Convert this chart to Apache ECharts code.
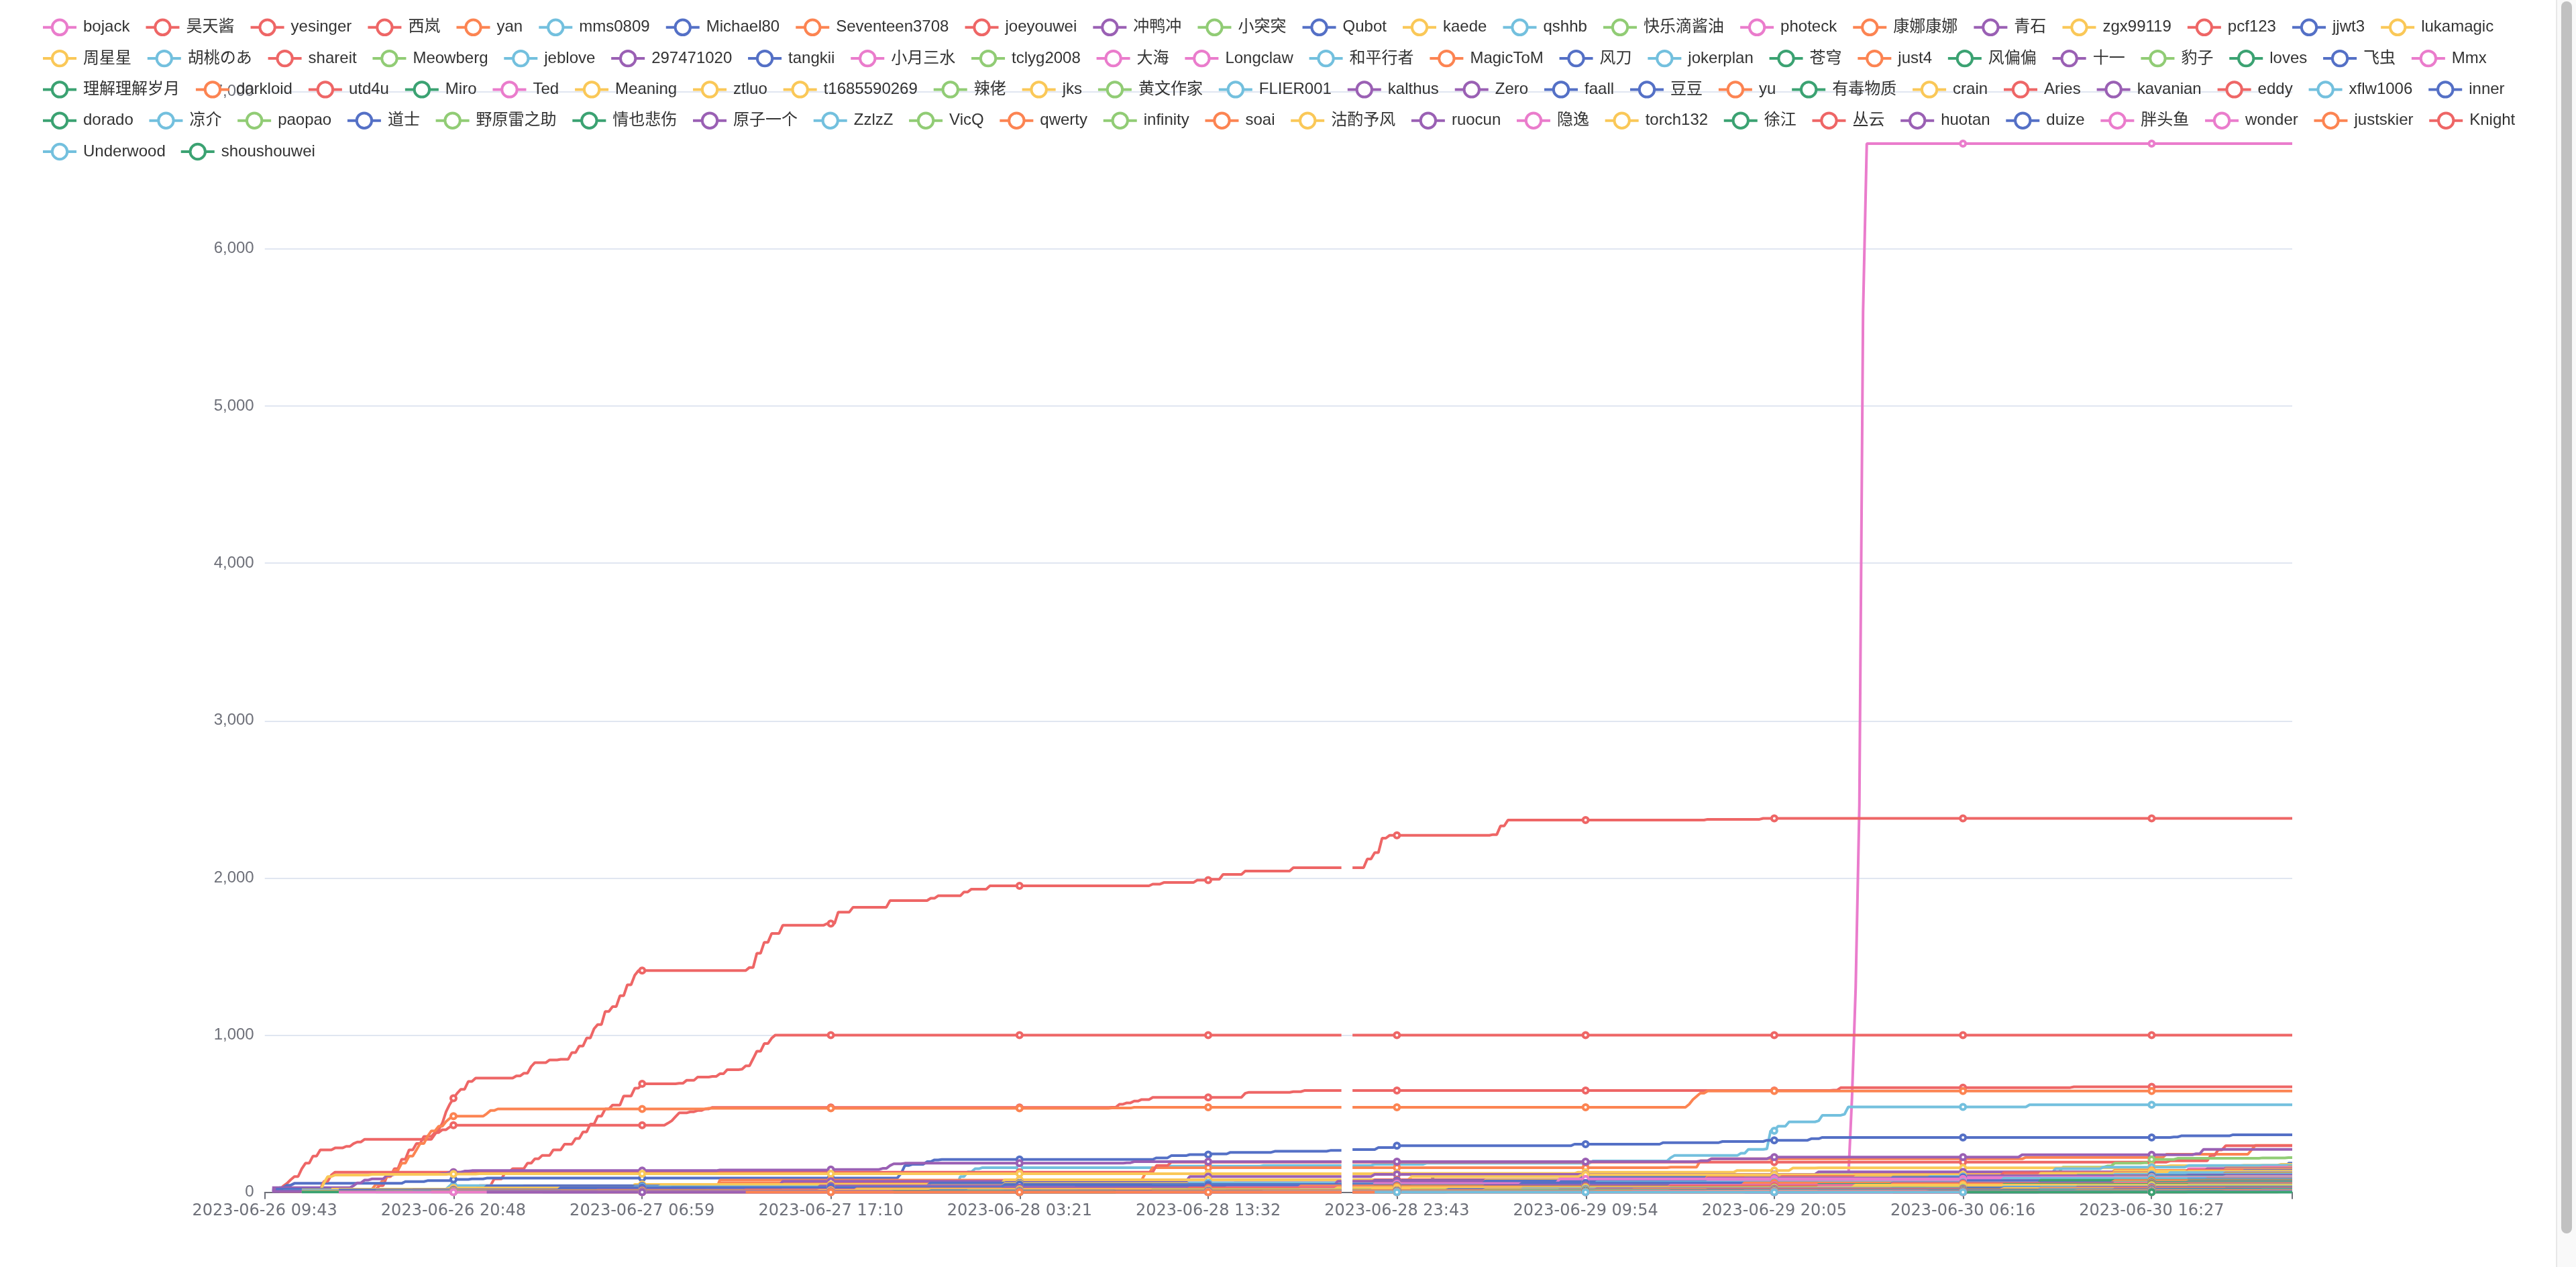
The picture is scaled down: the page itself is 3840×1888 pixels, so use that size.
<!DOCTYPE html>
<html><head><meta charset="utf-8">
<script src="https://cdn.jsdelivr.net/npm/echarts@6/dist/echarts.min.js"></script>
<style>
html,body{margin:0;padding:0;background:#fff;overflow:hidden;width:3840px;height:1888px;}
#chart{position:absolute;left:0;top:0;width:1905px;height:944px;transform:scale(2);transform-origin:0 0;}
#sbTrack{position:absolute;left:3810px;top:0;width:30px;height:1888px;background:#f9f9f9;box-sizing:border-box;border-left:2px solid #e8e8e8;}
#sbThumb{position:absolute;left:3818px;top:2px;width:16px;height:1836px;background:#c1c1c1;border-radius:8px;}
</style></head><body>
<div id="chart"></div><div id="sbTrack"></div><div id="sbThumb"></div>
<script>
// ---- x axis tick labels (every 51st category) ----
const TICK_LABELS = ['2023-06-26 09:43','2023-06-26 20:48','2023-06-27 06:59','2023-06-27 17:10','2023-06-28 03:21','2023-06-28 13:32','2023-06-28 23:43','2023-06-29 09:54','2023-06-29 20:05','2023-06-30 06:16','2023-06-30 16:27'];
const LABEL_STEP = 51;
const CATEGORY_COUNT = 549;
const GAP_INDICES = [292, 293];
const Y_TICKS = [0, 1000, 2000, 3000, 4000, 5000, 6000, 7000];

// ---- series names (legend order) ----
const SERIES_NAMES = ['bojack','昊天酱','yesinger','西岚','yan','mms0809','Michael80','Seventeen3708','joeyouwei','冲鸭冲','小突突','Qubot','kaede','qshhb','快乐滴酱油','photeck','康娜康娜','青石','zgx99119','pcf123','jjwt3','lukamagic',
'周星星','胡桃のあ','shareit','Meowberg','jeblove','297471020','tangkii','小月三水','tclyg2008','大海','Longclaw','和平行者','MagicToM','风刀','jokerplan','苍穹','just4','风偏偏','十一','豹子','loves','飞虫','Mmx',
'理解理解岁月','darkloid','utd4u','Miro','Ted','Meaning','ztluo','t1685590269','辣佬','jks','黄文作家','FLIER001','kalthus','Zero','faall','豆豆','yu','有毒物质','crain','Aries','kavanian','eddy','xflw1006','inner',
'dorado','凉介','paopao','道士','野原雷之助','情也悲伤','原子一个','ZzlzZ','VicQ','qwerty','infinity','soai','沽酌予风','ruocun','隐逸','torch132','徐江','丛云','huotan','duize','胖头鱼','wonder','justskier','Knight',
'Underwood','shoushouwei'];
const LEGEND_ROW_SIZES = [22, 23, 24, 24, 2];

// ---- series values: [categoryIndex, value] change points (value holds until next point) ----
const S01 = [[300,30],[345,78],[428,80],[429,600],[430,1300],[431,2460],[432,5600],[433,6669]]; // bojack
const S02 = [[3,15],[5,40],[6,57],[7,80],[8,100],[10,150],[11,185],[13,230],[15,270],[19,282],[22,292],[24,310],[25,320],[27,337],[45,337],[46,370],[47,398],[48,440],[49,512],[50,560],[51,598],[52,630],[53,655],[55,705],[57,726],[68,740],[70,757],[72,800],[73,825],[77,842],[80,846],[83,889],[85,930],[87,981],[89,1040],[90,1067],[92,1150],[94,1181],[96,1250],[98,1320],[100,1380],[101,1410],[131,1430],[133,1520],[135,1590],[137,1646],[140,1698],[152,1709],[155,1782],[159,1813],[169,1855],[180,1870],[182,1886],[189,1910],[191,1928],[196,1949],[240,1960],[243,1970],[252,1985],[256,1991],[259,2022],[265,2043],[278,2064],[298,2120],[300,2160],[302,2252],[304,2270],[332,2275],[334,2330],[336,2367],[390,2372],[405,2378]]; // 昊天酱
const S03 = [[45,5],[55,20],[58,42],[62,85],[65,128],[67,150],[71,185],[73,213],[75,235],[78,270],[81,306],[84,342],[86,384],[88,434],[90,484],[92,530],[94,555],[97,612],[100,662],[102,690],[112,693],[114,712],[117,733],[121,737],[123,754],[125,780],[129,783],[130,804],[132,850],[133,897],[135,946],[137,980],[138,1000]]; // yesinger
const S04 = [[22,5],[30,20],[31,42],[33,100],[35,150],[37,210],[39,270],[41,310],[43,355],[46,380],[48,398],[50,415],[51,427],[108,427],[109,440],[110,455],[111,480],[112,505],[115,512],[117,520],[119,530],[121,540],[229,541],[231,560],[233,569],[235,580],[237,590],[240,604],[263,604],[265,630],[266,636],[278,640],[281,647],[424,650],[426,666],[489,671]]; // 西岚
const S05 = [[26,5],[28,20],[30,50],[32,80],[33,100],[35,140],[37,185],[39,230],[41,270],[42,310],[44,356],[45,390],[47,420],[49,450],[50,470],[51,484],[59,484],[60,500],[61,520],[63,530],[120,534],[229,536],[235,541],[384,541],[385,560],[386,590],[387,610],[388,630],[390,644]]; // yan
const S06 = [[45,20],[50,42],[186,42],[188,100],[190,130],[192,150],[194,157],[242,166],[270,171],[300,178],[314,185],[359,199],[380,220],[381,234],[399,248],[401,273],[406,276],[407,391],[409,420],[412,448],[420,455],[421,490],[427,497],[428,543],[477,557]]; // mms0809
const S07 = [[2,15],[4,30],[6,45],[8,57],[38,68],[44,74],[51,82],[56,85],[60,90],[171,92],[172,120],[173,170],[175,178],[179,195],[181,206],[183,209],[241,219],[245,233],[250,240],[256,244],[261,254],[273,261],[288,266],[294,272],[301,285],[306,296],[354,306],[378,316],[394,323],[406,331],[418,341],[421,349],[516,352],[518,359],[532,366]]; // Michael80
const S08 = [[5,10],[122,20],[123,78],[236,78],[238,120],[240,157],[380,160],[388,200],[391,213],[476,222],[514,242],[536,242],[537,270],[538,298]]; // Seventeen3708
const S09 = [[14,20],[16,70],[18,110],[19,128],[238,128],[241,170],[245,192],[500,192],[515,200],[526,235],[528,270],[530,296]]; // joeyouwei
const S10 = [[2,30],[24,42],[25,60],[27,78],[29,85],[33,107],[35,114],[48,118],[50,128],[54,135],[56,138],[123,142],[153,145],[167,152],[169,170],[170,181],[173,185],[233,188],[235,195],[388,200],[391,213],[407,224],[475,239],[522,245],[524,273]]; // 冲鸭冲
const S11 = [[150,5],[300,10],[390,12],[397,42],[405,70],[414,85],[416,95],[435,100],[437,110],[477,128],[484,130],[486,160],[498,167],[500,185],[508,188],[510,209],[517,216],[540,219],[547,221]]; // 小突突
const S12 = [[8,10],[100,25],[313,30],[315,70],[316,100],[470,105],[500,112],[535,114],[540,130],[545,150],[547,185]]; // Qubot
const S13 = [[14,10],[16,60],[17,100],[19,110],[29,114],[50,116],[58,118],[300,120],[355,128],[398,139],[413,154],[420,156],[510,165],[515,169],[535,172],[545,178]]; // kaede
const S14 = [[30,5],[200,20],[320,40],[380,80],[420,120],[484,150],[497,160],[520,170],[540,172]]; // qshhb
const S15 = [[60,5],[250,20],[420,45],[534,50],[538,80],[542,110],[545,140],[547,165]]; // 快乐滴酱油
const S16 = [[100,10],[300,40],[420,80],[470,120],[520,150],[540,160]]; // photeck
const S17 = [[4,5],[60,30],[123,60],[310,75],[390,100],[430,120],[500,140],[530,155]]; // 康娜康娜
const S18 = [[2,15],[70,40],[140,70],[250,100],[300,114],[420,130],[525,150]]; // 青石
const S19 = [[40,20],[100,50],[200,80],[310,100],[356,112],[500,135],[530,146]]; // zgx99119
const S20 = [[150,10],[262,60],[300,80],[410,100],[470,125],[520,142]]; // pcf123
const S21 = [[3,20],[60,40],[180,60],[300,75],[440,100],[500,120],[535,138]]; // jjwt3
const S22 = [[18,20],[50,28],[107,42],[300,64],[400,90],[480,120],[520,134]]; // lukamagic
const S23 = [[10,15],[80,30],[200,55],[330,78],[430,100],[510,130]]; // 周星星
const S24 = [[50,10],[150,30],[250,50],[350,80],[450,100],[515,126]]; // 胡桃のあ
const S25 = [[30,10],[120,25],[230,50],[400,85],[500,110],[530,122]]; // shareit
const S26 = [[90,5],[200,20],[330,50],[420,80],[490,110],[530,118]]; // Meowberg
const S27 = [[5,10],[100,35],[250,60],[400,90],[500,114]]; // jeblove
const S28 = [[40,15],[150,40],[290,70],[390,90],[460,105],[520,110]]; // 297471020
const S29 = [[3,10],[80,30],[200,50],[330,72],[440,95],[510,106]]; // tangkii
const S30 = [[60,5],[180,25],[300,55],[350,85],[460,95],[530,102]]; // 小月三水
const S31 = [[110,5],[230,20],[350,45],[450,70],[500,98]]; // tclyg2008
const S32 = [[30,8],[150,20],[270,40],[390,70],[480,95]]; // 大海
const S33 = [[70,5],[190,25],[320,50],[430,80],[520,92]]; // Longclaw
const S34 = [[10,10],[120,30],[240,45],[360,65],[470,89]]; // 和平行者
const S35 = [[130,5],[250,25],[380,55],[470,75],[525,86]]; // MagicToM
const S36 = [[20,15],[110,30],[220,45],[340,60],[460,75],[520,83]]; // 风刀
const S37 = [[80,5],[200,20],[310,40],[420,62],[510,80]]; // jokerplan
const S38 = [[150,5],[260,20],[370,45],[480,77]]; // 苍穹
const S39 = [[40,8],[160,22],[280,40],[400,60],[500,74]]; // just4
const S40 = [[100,5],[210,15],[340,35],[450,55],[520,71]]; // 风偏偏
const S41 = [[2,5],[90,15],[200,30],[330,45],[440,60],[520,68]]; // 十一
const S42 = [[170,5],[290,20],[400,40],[500,65]]; // 豹子
const S43 = [[60,8],[180,20],[300,35],[420,50],[510,62]]; // loves
const S44 = [[120,5],[240,15],[370,35],[480,60]]; // 飞虫
const S45 = [[25,5],[140,15],[260,30],[380,45],[500,58]]; // Mmx
const S46 = [[200,5],[320,20],[430,40],[510,56]]; // 理解理解岁月
const S47 = [[50,10],[170,20],[300,35],[440,54]]; // darkloid
const S48 = [[15,5],[130,15],[250,28],[380,40],[480,52]]; // utd4u
const S49 = [[90,5],[210,15],[340,30],[470,50]]; // Miro
const S50 = [[140,5],[280,20],[420,35],[520,48]]; // Ted
const S51 = [[30,8],[160,18],[290,30],[430,46]]; // Meaning
const S52 = [[70,5],[200,15],[330,28],[460,44]]; // ztluo
const S53 = [[250,5],[360,20],[460,35],[530,42]]; // t1685590269
const S54 = [[110,5],[240,15],[380,28],[490,40]]; // 辣佬
const S55 = [[10,5],[150,12],[300,25],[450,38]]; // jks
const S56 = [[180,5],[310,15],[440,28],[520,36]]; // 黄文作家
const S57 = [[40,5],[190,12],[340,22],[470,34]]; // FLIER001
const S58 = [[60,5],[220,12],[360,22],[490,32]]; // kalthus
const S59 = [[130,3],[270,10],[400,20],[510,30]]; // Zero
const S60 = [[20,5],[180,10],[320,18],[460,28]]; // faall
const S61 = [[160,3],[300,10],[420,18],[520,27]]; // 豆豆
const S62 = [[80,4],[230,10],[370,18],[480,26]]; // yu
const S63 = [[210,3],[340,10],[460,18],[530,25]]; // 有毒物质
const S64 = [[35,3],[190,9],[330,16],[470,24]]; // crain
const S65 = [[120,3],[260,8],[390,15],[500,23]]; // Aries
const S66 = [[240,2],[360,8],[470,15],[530,22]]; // kavanian
const S67 = [[55,3],[200,8],[350,14],[480,21]]; // eddy
const S68 = [[280,2],[400,8],[490,14],[535,20]]; // xflw1006
const S69 = [[100,2],[250,7],[390,13],[510,19]]; // inner
const S70 = [[140,2],[290,7],[420,12],[515,18]]; // dorado
const S71 = [[30,2],[180,6],[340,11],[480,17]]; // 凉介
const S72 = [[220,2],[350,6],[460,11],[530,16]]; // paopao
const S73 = [[75,2],[230,6],[380,10],[500,15]]; // 道士
const S74 = [[300,2],[410,6],[500,10],[540,14]]; // 野原雷之助
const S75 = [[10,2],[170,5],[330,9],[470,13]]; // 情也悲伤
const S76 = [[190,2],[320,5],[440,8],[520,12]]; // 原子一个
const S77 = [[120,2],[270,5],[400,8],[505,11]]; // ZzlzZ
const S78 = [[260,2],[380,5],[480,8],[530,10]]; // VicQ
const S79 = [[45,2],[210,4],[360,7],[490,10]]; // qwerty
const S80 = [[330,2],[430,5],[510,7],[540,9]]; // infinity
const S81 = [[150,2],[300,4],[430,7],[525,9]]; // soai
const S82 = [[90,1],[240,4],[390,6],[500,8]]; // 沽酌予风
const S83 = [[350,1],[450,4],[520,6],[540,8]]; // ruocun
const S84 = [[20,1],[200,3],[370,5],[480,7]]; // 隐逸
const S85 = [[270,1],[400,3],[490,5],[535,7]]; // torch132
const S86 = [[170,1],[320,3],[450,5],[520,6]]; // 徐江
const S87 = [[380,1],[470,3],[530,6]]; // 丛云
const S88 = [[60,1],[260,2],[420,4],[510,5]]; // huotan
const S89 = [[400,1],[480,3],[540,5]]; // duize
const S90 = [[230,1],[370,2],[470,3],[530,4]]; // 胖头鱼
const S91 = [[420,1],[500,2],[540,4]]; // wonder
const S92 = [[130,1],[310,2],[460,3]]; // justskier
const S93 = [[440,1],[520,2],[545,3]]; // Knight
const S94 = [[300,1],[480,2]]; // Underwood
const S95 = [[460,1]]; // shoushouwei

const SERIES_POINTS = [S01,S02,S03,S04,S05,S06,S07,S08,S09,S10,S11,S12,S13,S14,S15,S16,S17,S18,S19,S20,S21,S22,S23,S24,S25,S26,S27,S28,S29,S30,S31,S32,S33,S34,S35,S36,S37,S38,S39,S40,S41,S42,S43,S44,S45,S46,S47,S48,S49,S50,S51,S52,S53,S54,S55,S56,S57,S58,S59,S60,S61,S62,S63,S64,S65,S66,S67,S68,S69,S70,S71,S72,S73,S74,S75,S76,S77,S78,S79,S80,S81,S82,S83,S84,S85,S86,S87,S88,S89,S90,S91,S92,S93,S94,S95];

// ---- styles ----
const PAL = {pink:'#ea7ccc', red:'#ee6666', orange:'#fc8452', lblue:'#73c0de', blue:'#5470c6', purple:'#9a60b4', green:'#91cc75', yellow:'#fac858', dgreen:'#3ba272'};
const COLOR_KEYS = ['pink','red','red','red','orange','lblue','blue','orange','red','purple','green','blue','yellow','lblue','green','pink','orange','purple','yellow','red','blue','yellow',
'yellow','lblue','red','green','lblue','purple','blue','pink','green','pink','pink','lblue','orange','blue','lblue','dgreen','orange','dgreen','purple','green','dgreen','blue','pink',
'dgreen','orange','red','dgreen','pink','yellow','yellow','yellow','green','yellow','green','lblue','purple','purple','blue','blue','orange','dgreen','yellow','red','purple','red','lblue','blue',
'dgreen','lblue','green','blue','green','dgreen','purple','lblue','green','orange','green','orange','yellow','purple','pink','yellow','dgreen','red','purple','blue','pink','pink','orange','red',
'lblue','dgreen'];
const LEGEND_ROW_GAPS = [11.05, 10.9, 10.96, 10.85, 10.5];

// ---- build categories from tick labels ----
function parseT(s){const [d,t]=s.split(' ');const [Y,M,D]=d.split('-').map(Number);const [h,m]=t.split(':').map(Number);return Date.UTC(Y,M-1,D,h,m);}
function fmtT(ms){const d=new Date(ms);const p=n=>String(n).padStart(2,'0');return d.getUTCFullYear()+'-'+p(d.getUTCMonth()+1)+'-'+p(d.getUTCDate())+' '+p(d.getUTCHours())+':'+p(d.getUTCMinutes());}
const tickMs = TICK_LABELS.map(parseT);
const categories = [];
for (let i=0;i<CATEGORY_COUNT;i++){
  const k=Math.floor(i/LABEL_STEP), j=i%LABEL_STEP;
  let a, span;
  if (k < tickMs.length-1){a=tickMs[k]; span=tickMs[k+1]-tickMs[k];}
  else {a=tickMs[tickMs.length-1]; span=tickMs[tickMs.length-1]-tickMs[tickMs.length-2]; }
  const t = a + Math.round(j*span/LABEL_STEP/60000)*60000;
  categories.push(j===0 ? TICK_LABELS[Math.min(k,TICK_LABELS.length-1)] : fmtT(t));
}
const tickIdx = [];
for (let i=0;i<CATEGORY_COUNT;i+=LABEL_STEP) tickIdx.push(i);
tickIdx.push(CATEGORY_COUNT-1);

function expand(pts){
  const out=new Array(CATEGORY_COUNT).fill(null);
  let p=0;
  for(let i=pts[0][0];i<CATEGORY_COUNT;i++){
    while(p+1<pts.length && pts[p+1][0]<=i) p++;
    out[i]=pts[p][1];
  }
  GAP_INDICES.forEach(g=>{out[g]=null;});
  return out;
}

const FONT = "'Liberation Sans', 'Noto Sans CJK SC', sans-serif";
const legends=[]; let idx=0;
LEGEND_ROW_SIZES.forEach((n,r)=>{
  const rowNames = SERIES_NAMES.slice(idx, idx+n); idx += n;
  legends.push({type:'plain', left:31, top:13.8 + r*23.15, padding:0, width:1870, itemWidth:25, itemHeight:14, itemGap:LEGEND_ROW_GAPS[r],
    textStyle:{color:'#333', fontSize:12, fontFamily:FONT}, data:rowNames});
});

const chart = echarts.init(document.getElementById('chart'), null, {renderer:'canvas', devicePixelRatio:2});
chart.setOption({
  animation:false,
  textStyle:{fontFamily:FONT},
  legend:legends,
  grid:{left:197.35, right:196.5, top:68.25, bottom:55.65, containLabel:false, outerBoundsMode:'none'},
  xAxis:{type:'category', boundaryGap:false, data:categories,
    axisLine:{lineStyle:{color:'#6E7079'}},
    axisTick:{length:5, customValues:tickIdx, lineStyle:{color:'#6E7079'}},
    axisLabel:{interval:LABEL_STEP-1, color:'#6E7079', fontSize:12, margin:8, fontFamily:"'DejaVu Sans', sans-serif"}},
  yAxis:{type:'value', min:Y_TICKS[0], max:Y_TICKS[Y_TICKS.length-1], interval:Y_TICKS[1]-Y_TICKS[0],
    axisLine:{show:false}, axisTick:{show:false},
    axisLabel:{color:'#6E7079', fontSize:12, margin:8, fontFamily:FONT},
    splitLine:{lineStyle:{color:'#E0E6F1', width:1}}},
  series: SERIES_POINTS.map((pts,k)=>({
    name:SERIES_NAMES[k], type:'line', data:expand(pts),
    symbol:'emptyCircle', symbolSize:4, showSymbol:true, showAllSymbol:'auto', connectNulls:false,
    itemStyle:{color:PAL[COLOR_KEYS[k]], borderWidth:2},
    lineStyle:{color:PAL[COLOR_KEYS[k]], width:2},
    emphasis:{disabled:true}
  }))
});
</script></body></html>
